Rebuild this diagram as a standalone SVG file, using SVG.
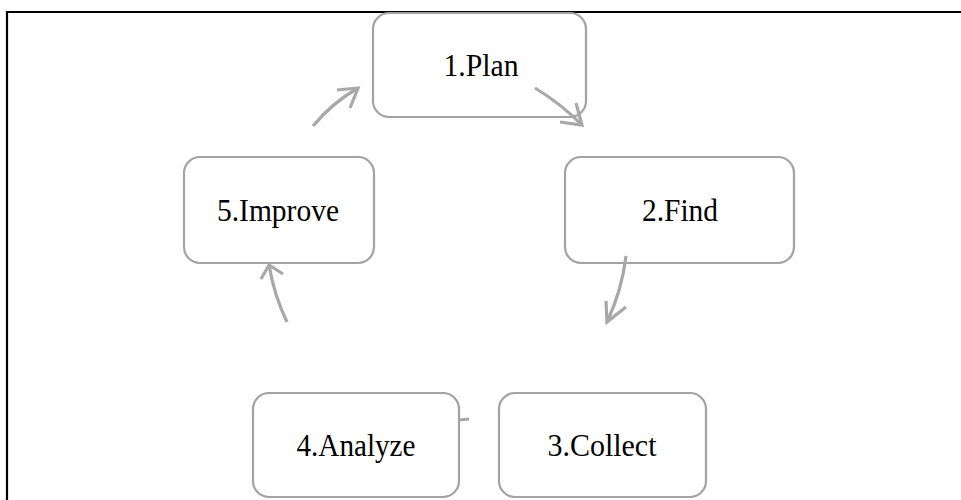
<svg xmlns="http://www.w3.org/2000/svg" width="961" height="500" viewBox="0 0 961 500">
<style>
.box{fill:#fff;stroke:#a3a3a3;stroke-width:2.2}
.lbl{font-family:'Liberation Serif','Times New Roman','DejaVu Serif',serif;font-size:31px;fill:#000;text-anchor:middle}
.con{fill:none;stroke:#a8a8a8;stroke-width:3.2;stroke-linecap:butt;stroke-linejoin:miter}
</style>
<rect width="961" height="500" fill="#fff"/>
<path d="M7,500 L7,12 L961,12" fill="none" stroke="#000" stroke-width="2.2"/>
<g id="node1"><rect class="box" x="373" y="13" width="213" height="104" rx="16"/><text class="lbl" x="481" y="76" textLength="75" lengthAdjust="spacingAndGlyphs">1.Plan</text></g>
<g id="node2"><rect class="box" x="565" y="157" width="229" height="106" rx="16"/><text class="lbl" x="680" y="221" textLength="76" lengthAdjust="spacingAndGlyphs">2.Find</text></g>
<g id="node3"><rect class="box" x="499" y="393" width="207" height="104" rx="16"/><text class="lbl" x="602" y="456" textLength="109" lengthAdjust="spacingAndGlyphs">3.Collect</text></g>
<g id="node4"><rect class="box" x="253" y="393" width="206" height="104" rx="16"/><text class="lbl" x="356" y="456" textLength="119" lengthAdjust="spacingAndGlyphs">4.Analyze</text></g>
<g id="node5"><rect class="box" x="184" y="157" width="190" height="106" rx="16"/><text class="lbl" x="278" y="221" textLength="122" lengthAdjust="spacingAndGlyphs">5.Improve</text></g>
<g id="connectors">
<path class="con" d="M535,88 Q560,103 582,125"/>
<path class="con" d="M576,103 L582,125 L560,122"/>
<path class="con" d="M626,256 Q622,290 607,322"/>
<path class="con" d="M606,301 L607,322 L626,307"/>
<path class="con" d="M459,420 L469,419"/>
<path class="con" d="M287,322 Q274,295 269,265"/>
<path class="con" d="M261,279 L269,265 L283,274"/>
<path class="con" d="M313,126 Q332,103 358,88"/>
<path class="con" d="M337,90 L358,88 L350,108"/>
</g>
</svg>
